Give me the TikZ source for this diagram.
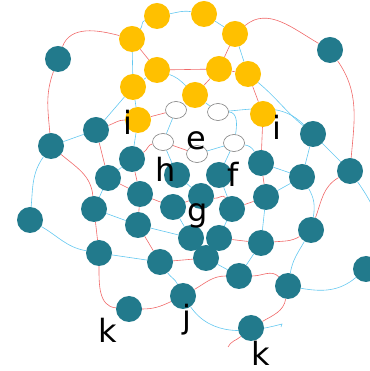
\documentclass[tikz,border=0pt]{standalone}
\usepackage{fontspec}
\setmainfont{DejaVu Sans}
\usetikzlibrary{backgrounds,shapes.geometric}
\definecolor{tealn}{RGB}{34,122,140}
\definecolor{goldn}{RGB}{255,192,0}
\definecolor{redl}{RGB}{240,105,105}
\definecolor{cyanl}{RGB}{100,200,240}
\begin{document}
\begin{tikzpicture}[x=1pt,y=1pt,
  tn/.style={circle,fill=tealn,minimum size=26pt,inner sep=0pt},
  yn/.style={circle,fill=goldn,minimum size=26pt,inner sep=0pt},
  wn/.style={ellipse,draw=gray,fill=white,minimum width=21pt,minimum height=17pt,inner sep=0pt,line width=0.6pt},
  re/.style={draw=redl,line width=0.6pt},
  ce/.style={draw=cyanl,line width=0.6pt},
  lbl/.style={font=\fontsize{32}{32}\selectfont,inner sep=0pt,anchor=base}]
\useasboundingbox (0,0) rectangle (369,371);
% yellow nodes
\node[yn] (Y1) at (157,355) {};
\node[yn] (Y2) at (204,357) {};
\node[yn] (Y3) at (132,332) {};
\node[yn] (Y4) at (235,337) {};
\node[yn] (Y5) at (157,301) {};
\node[yn] (Y6) at (219,302) {};
\node[yn] (Y7) at (248,297) {};
\node[yn] (Y8) at (133,284) {};
\node[yn] (Y9) at (195,276) {};
\node[yn] (Y10) at (138,251) {};
\node[yn] (Y11) at (263,257) {};
% white nodes
\node[wn] (e1) at (176,261) {};
\node[wn] (e2) at (218,259) {};
\node[wn] (wh) at (163,229) {};
\node[wn] (wf) at (234,228) {};
\node[wn] (wg) at (197,217) {};
% teal nodes
\node[tn] (T1) at (58,312) {};
\node[tn] (T2) at (96,241) {};
\node[tn] (T3) at (51,225) {};
\node[tn] (T4) at (132,212) {};
\node[tn] (T5) at (108,193) {};
\node[tn] (T6) at (330,321) {};
\node[tn] (T7) at (313,237) {};
\node[tn] (T8) at (261,208) {};
\node[tn] (T9) at (302,194) {};
\node[tn] (T10) at (350,200) {};
\node[tn] (T11) at (140,177) {};
\node[tn] (T12) at (94,162) {};
\node[tn] (T13) at (30,151) {};
\node[tn] (T14) at (138,146) {};
\node[tn] (T15) at (173,164) {};
\node[tn] (T16) at (99,118) {};
\node[tn] (T17) at (160,109) {};
\node[tn] (T18) at (177,196) {};
\node[tn] (T19) at (201,175) {};
\node[tn] (T20) at (219,196) {};
\node[tn] (T21) at (266,174) {};
\node[tn] (T22) at (232,162) {};
\node[tn] (T23) at (311,141) {};
\node[tn] (T24) at (191,133) {};
\node[tn] (T25) at (219,133) {};
\node[tn] (T26) at (261,128) {};
\node[tn] (T27) at (206,113) {};
\node[tn] (T28) at (366,102) {};
\node[tn] (T29) at (239,95) {};
\node[tn] (T30) at (288,85) {};
\node[tn] (T31) at (183,75) {};
\node[tn] (T32) at (251,43) {};
\node[tn] (T33) at (129,62) {};
\coordinate (rend) at (228,24);
\coordinate (cend) at (282,47);
\coordinate (chook) at (281,44);
% labels
\node[lbl] (L1) at (128,236) {i};
\node[lbl] (L2) at (277,231) {i};
\node[lbl] (L3) at (196,221) {e};
\node[lbl] (L4) at (166,189) {h};
\node[lbl] (L5) at (233,184) {f};
\node[lbl] (L6) at (198,149) {g};
\node[lbl] (L7) at (187,42) {j};
\node[lbl] (L8) at (108,28) {k};
\node[lbl] (L9) at (261,5.5) {k};
\begin{pgfonlayer}{background}
% red edges
\draw[re] (T1) to[out=70,in=165] (Y3);
\draw[re] (T1) to[out=250,in=95] (T3);
\draw[re] (T16) to[out=270,in=175] (T33);
\draw[re] (T33) to[out=0,in=205] (T31);
\draw[re] (T31) to[out=30,in=180] (T29);
\draw[re] (T29) to[out=0,in=135] (T30);
\draw[re] (T30) to[out=260,in=30] (T32);
\draw[re] (T32) to[out=220,in=65] (rend);
\draw[re] (T6) to[out=-55,in=85] (T10);
\draw[re] (Y4) to[out=40,in=150] (T6);
\draw[re] (T10) to[out=210,in=70] (T23);
\draw[re] (Y11) -- (T8);
\draw[re] (T8) -- (T21);
\draw[re] (T21) -- (T22);
\draw[re] (T26) to[out=5,in=210] (T23);
\draw[re] (T25) -- (T26);
\draw[re] (T17) to[out=5,in=185] (T27);
\draw[re] (T19) to[out=-10,in=120] (T22);
\draw[re] (T15) -- (T19);
\draw[re] (T11) -- (T15);
\draw[re] (T11) -- (T14);
\draw[re] (T14) -- (T17);
\draw[re] (T12) -- (T16);
\draw[re] (T3) to[out=-40,in=95] (T12);
\draw[re] (T2) -- (T5);
\draw[re] (T2) to[out=20,in=180] (Y10);
\draw[re] (T5) -- (T11);
\draw[re] (T4) -- (T11);
\draw[re] (T4) to[out=30,in=190] (wh);
\draw[re] (Y3) -- (Y5);
\draw[re] (Y4) -- (Y6);
\draw[re] (Y6) -- (Y7);
\draw[re] (Y5) -- (Y6);
\draw[re] (Y6) -- (Y9);
\draw[re] (Y10) -- (e1);
\draw[re] (wh) -- (wg);
\draw[re] (Y7) -- (Y11);
% cyan edges
\draw[ce] (T3) to[out=235,in=85] (T13);
\draw[ce] (T13) to[out=-30,in=170] (T16);
\draw[ce] (T17) to[out=-55,in=115] (T31);
\draw[ce] (T31) to[out=-55,in=195] (cend) -- (chook);
\draw[ce] (T30) to[out=-10,in=220] (T28);
\draw[ce] (T30) to[out=80,in=240] (T23);
\draw[ce] (T10) to[out=-55,in=60] (T28);
\draw[ce] (T7) -- (T10);
\draw[ce] (T7) -- (T9);
\draw[ce] (Y7) to[out=-40,in=140] (T7);
\draw[ce] (e2) to[out=5,in=135] (T7);
\draw[ce] (e2) to[out=0,in=80] (wf);
\draw[ce] (wf) to[out=-10,in=120] (T8);
\draw[ce] (T8) -- (T9);
\draw[ce] (T9) -- (T21);
\draw[ce] (T9) to[out=-60,in=80] (T23);
\draw[ce] (T21) -- (T26);
\draw[ce] (T26) -- (T29);
\draw[ce] (T27) -- (T29);
\draw[ce] (T22) -- (T25);
\draw[ce] (T20) -- (T22);
\draw[ce] (T18) -- (T19);
\draw[ce] (T15) -- (T24);
\draw[ce] (T14) -- (T24);
\draw[ce] (T16) -- (T17);
\draw[ce] (T12) -- (T14);
\draw[ce] (T3) -- (T2);
\draw[ce] (T5) -- (T12);
\draw[ce] (T5) -- (T4);
\draw[ce] (T4) -- (Y10);
\draw[ce] (Y8) -- (Y10);
\draw[ce] (Y8) -- (T2);
\draw[ce] (Y8) -- (Y5);
\draw[ce] (Y3) -- (Y8);
\draw[ce] (Y3) to[out=50,in=200] (Y1);
\draw[ce] (Y1) to[out=10,in=170] (Y2);
\draw[ce] (Y2) -- (Y4);
\draw[ce] (Y4) -- (Y7);
\draw[ce] (Y5) to[out=-20,in=135] (Y9);
\draw[ce] (Y9) -- (e2);
\draw[ce] (e1) -- (wh);
\draw[ce] (wg) -- (wf);
\draw[ce] (wh) -- (T18);
\draw[ce] (wf) -- (T20);
\end{pgfonlayer}
\end{tikzpicture}
\end{document}
